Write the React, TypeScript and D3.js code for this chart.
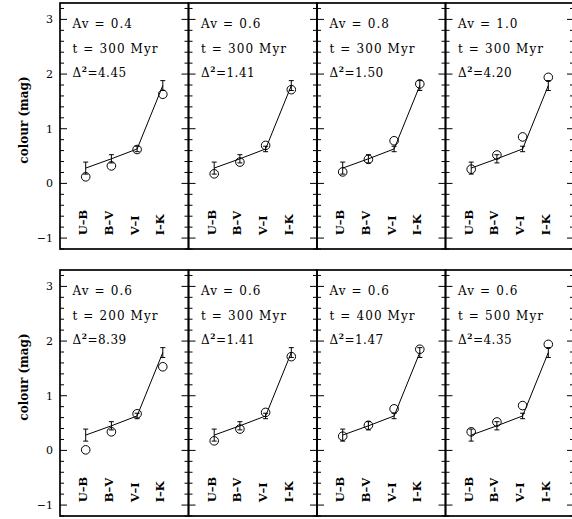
import React from "react";
import * as d3 from "d3";

const categories = ["U\u2013B", "B\u2013V", "V\u2013I", "I\u2013K"];
const obsValues = [0.28, 0.45, 0.63, 1.79];
const obsErrors = [0.11, 0.075, 0.05, 0.09];

const panelAv = ["0.4", "0.6", "0.8", "1.0", "0.6", "0.6", "0.6", "0.6"];
const panelAge = ["300", "300", "300", "300", "200", "300", "400", "500"];
const panelDelta = ["4.45", "1.41", "1.50", "4.20", "8.39", "1.41", "1.47", "4.35"];

const modelAv04t300 = [0.12, 0.32, 0.62, 1.63];
const modelAv06t300 = [0.175, 0.39, 0.695, 1.715];
const modelAv08t300 = [0.21, 0.44, 0.78, 1.82];
const modelAv10t300 = [0.26, 0.52, 0.85, 1.94];
const modelAv06t200 = [0.01, 0.34, 0.67, 1.53];
const modelAv06t400 = [0.26, 0.46, 0.76, 1.85];
const modelAv06t500 = [0.34, 0.52, 0.82, 1.94];

const panelModels = [
  modelAv04t300, modelAv06t300, modelAv08t300, modelAv10t300,
  modelAv06t200, modelAv06t300, modelAv06t400, modelAv06t500,
];

const yTicks = [-1, 0, 1, 2, 3];
const yMinorTicks = d3.range(-1.2, 3.3001, 0.2).map((v) => Math.round(v * 10) / 10);

const W = 572, H = 519;
const left = 60, panelW = 128.5, panelH = 246;
const rowTops = [3, 270];
const FONT = "'DejaVu Serif', serif";

function Panel({ idx }: { idx: number }) {
  const col = idx % 4, row = Math.floor(idx / 4);
  const x0 = left + col * panelW, y0 = rowTops[row];
  const x = d3.scaleLinear().domain([0, 5]).range([x0, x0 + panelW]);
  const y = d3.scaleLinear().domain([-1.2, 3.3]).range([y0 + panelH, y0]);
  const line = d3.line<number>().x((_, i) => x(i + 1)).y((d) => y(d));
  const model = panelModels[idx];
  const ls = 1.1;
  return (
    <g>
      {yMinorTicks.map((t) => {
        const major = yTicks.includes(t);
        const len = major ? 7 : 4;
        return (
          <g key={t}>
            <line x1={x0} x2={x0 + len} y1={y(t)} y2={y(t)} stroke="#000" strokeWidth={1} />
            <line x1={x0 + panelW} x2={x0 + panelW - len} y1={y(t)} y2={y(t)} stroke="#000" strokeWidth={1} />
          </g>
        );
      })}
      <rect x={x0} y={y0} width={panelW} height={panelH} fill="none" stroke="#000" strokeWidth={1.7} />
      <text x={x0 + 12.5} y={y0 + 24.5} fontFamily={FONT} fontSize={12} letterSpacing={ls} style={{ whiteSpace: "pre" }}>
        {`Av = ${panelAv[idx]}`}
      </text>
      <text x={x0 + 12.5} y={y0 + 49.5} fontFamily={FONT} fontSize={12} letterSpacing={ls} style={{ whiteSpace: "pre" }}>
        {`t = ${panelAge[idx]} Myr`}
      </text>
      <text x={x0 + 12.5} y={y0 + 73.5} fontFamily={FONT} fontSize={12} letterSpacing={0.5}>
        {"\u0394"}
        <tspan fontSize={7.5} dy={-5} fontWeight="bold">2</tspan>
        <tspan dy={5}>{`=${panelDelta[idx]}`}</tspan>
      </text>
      <path d={line(obsValues) || ""} fill="none" stroke="#000" strokeWidth={1} />
      {obsValues.map((v, i) => (
        <g key={i} stroke="#000" strokeWidth={1}>
          <line x1={x(i + 1)} x2={x(i + 1)} y1={y(v - obsErrors[i])} y2={y(v + obsErrors[i])} />
          <line x1={x(i + 1) - 2.5} x2={x(i + 1) + 2.5} y1={y(v - obsErrors[i])} y2={y(v - obsErrors[i])} />
          <line x1={x(i + 1) - 2.5} x2={x(i + 1) + 2.5} y1={y(v + obsErrors[i])} y2={y(v + obsErrors[i])} />
        </g>
      ))}
      {model.map((v, i) => (
        <circle key={i} cx={x(i + 1)} cy={y(v)} r={4.3} fill="none" stroke="#000" strokeWidth={1} />
      ))}
      {categories.map((c, i) => (
        <text key={c} transform={`translate(${x(i + 1) + 1.5},${y(-0.95)}) rotate(-90)`}
          fontFamily={FONT} fontSize={11.5} fontWeight="bold">{c}</text>
      ))}
      {col === 0 && yTicks.map((t) => (
        <text key={t} x={x0 - 7} y={y(t) + 4} textAnchor="end" fontFamily={FONT} fontSize={11}>
          {t < 0 ? `\u2212${Math.abs(t)}` : `${t}`}
        </text>
      ))}
      {col === 0 && (
        <text transform={`translate(${28},${row === 0 ? 120 : 377}) rotate(-90)`} textAnchor="middle"
          fontFamily={FONT} fontSize={12} fontWeight="bold">colour (mag)</text>
      )}
    </g>
  );
}

export default function App() {
  return (
    <svg width={W} height={H} style={{ position: "absolute", left: 0, top: 0, background: "#fff" }}>
      <rect width={W} height={H} fill="#fff" />
      {d3.range(8).map((i) => <Panel key={i} idx={i} />)}
    </svg>
  );
}
